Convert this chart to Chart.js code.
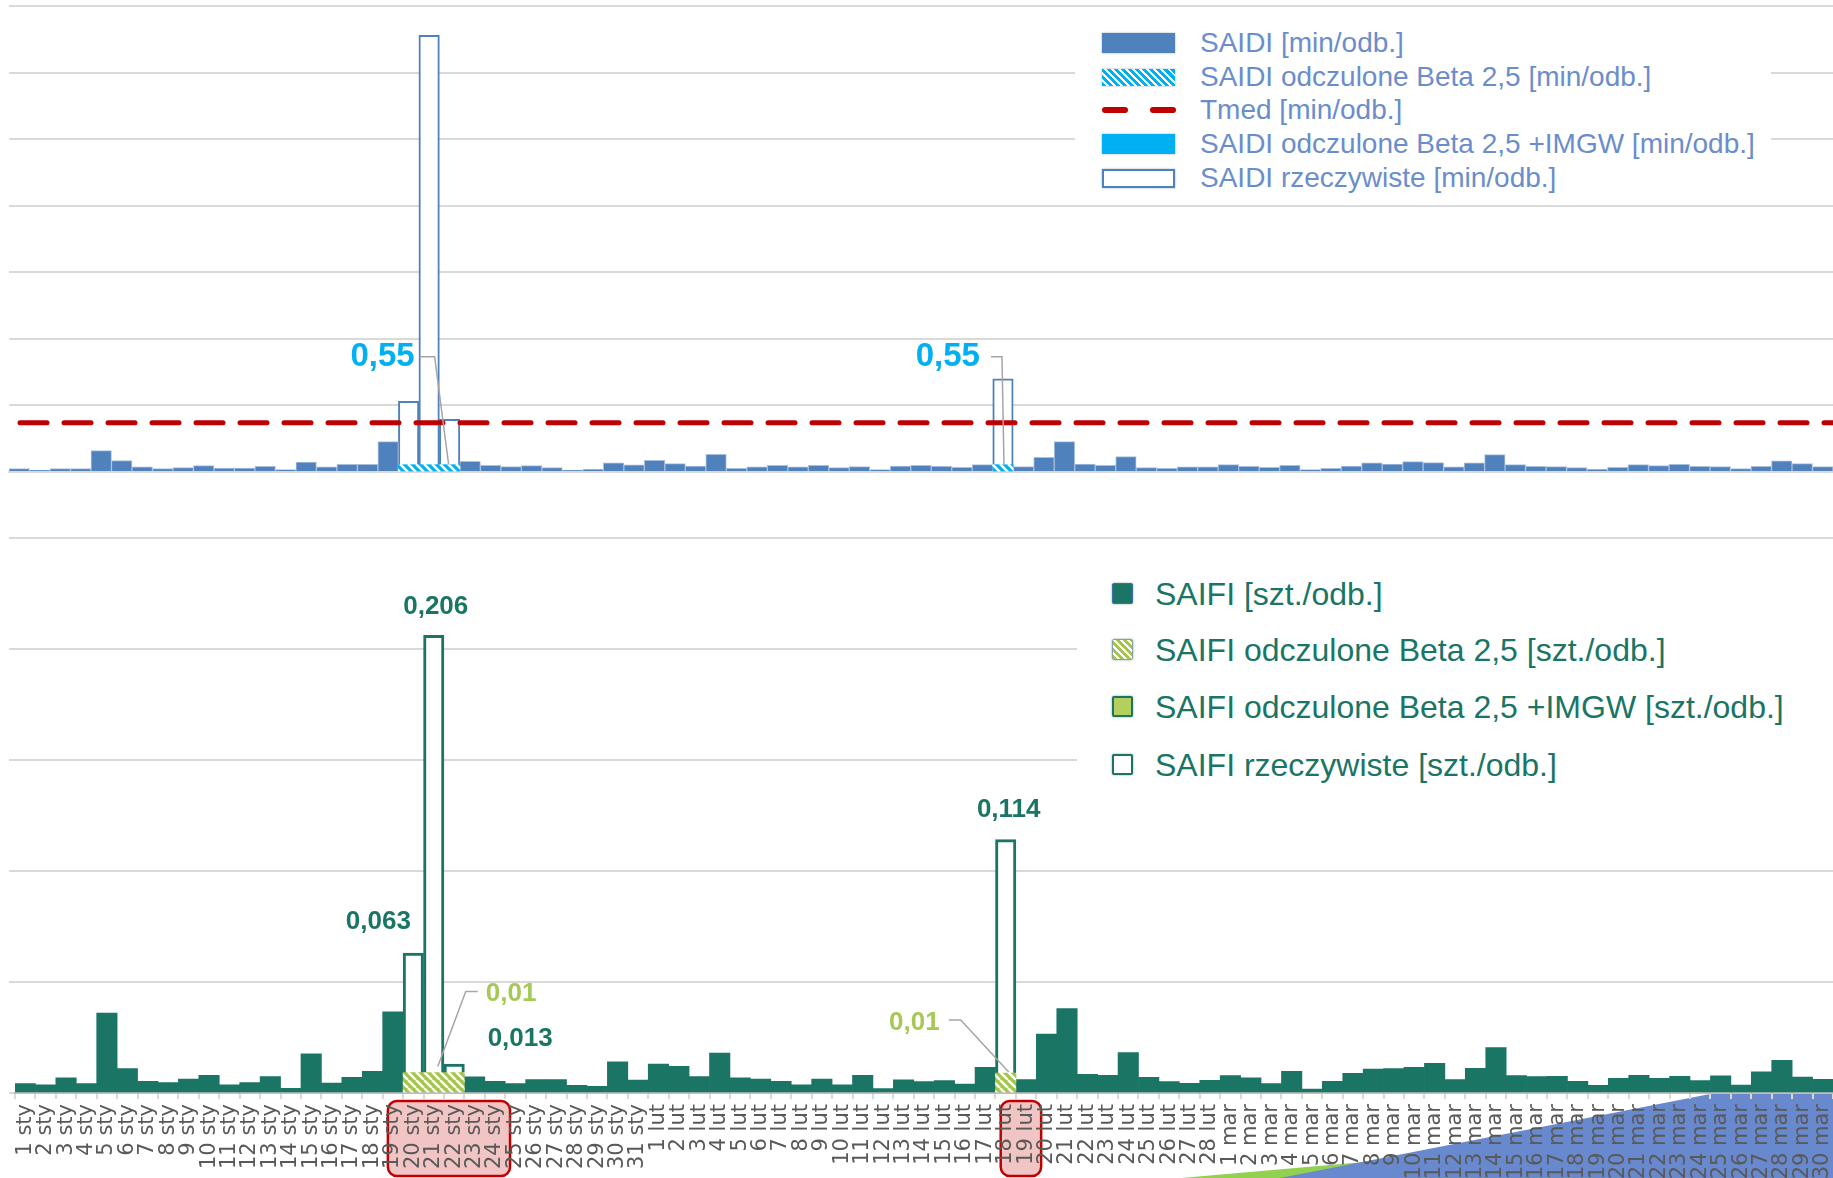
<!DOCTYPE html>
<html>
<head>
<meta charset="utf-8">
<script src="https://cdn.jsdelivr.net/npm/chart.js@4.4.1/dist/chart.umd.min.js"></script>
<style>
html, body { margin: 0; padding: 0; background: #fff; overflow: hidden; }
body { width: 1833px; height: 1178px; position: relative; font-family: "Liberation Sans", Arial, sans-serif; }
canvas { position: absolute; left: 0; }
#saidiChart { top: 0; }
#saifiChart { top: 520px; }
.legend { position: absolute; background: #fff; }
.row { position: absolute; left: 0; right: 0; height: 40px; line-height: 40px; white-space: nowrap; }
.row .sw { position: absolute; top: 50%; box-sizing: border-box; }
.row .tx { position: absolute; top: 0; }
#legTop { left: 1075px; top: 22px; width: 696px; height: 178px; }
#legTop .tx { left: 125px; font-size: 28px; color: #6b8dcb; }
#legTop .sw { left: 27px; width: 73px; box-shadow: 0 0 2px rgba(60,90,150,0.5); }
#legBot { left: 1077px; top: 565px; width: 756px; height: 235px; }
#legBot .tx { left: 78px; font-size: 32px; color: #1a7565; }
#legBot .sw { left: 35px; width: 21px; height: 21px; margin-top: -11px; border-radius: 2px; box-shadow: 0 0 2px rgba(20,80,70,0.6); }
</style>
</head>
<body>
<canvas id="saidiChart" width="1833" height="480"></canvas>
<canvas id="saifiChart" width="1833" height="658"></canvas>

<div id="legTop" class="legend">
  <div class="row" style="top:1px"><span class="sw" style="height:20px;margin-top:-10px;background:#4f81bd"></span><span class="tx">SAIDI [min/odb.]</span></div>
  <div class="row" style="top:35px"><span class="sw" style="height:17px;margin-top:-8px;background:repeating-linear-gradient(45deg,#00b0f0 0 3px,#fff 3px 5px)"></span><span class="tx">SAIDI odczulone Beta 2,5 [min/odb.]</span></div>
  <div class="row" style="top:68px"><span class="sw" style="height:6px;margin-top:-3px;width:26px;border-radius:3px;background:#c00000;box-shadow:none"></span><span class="sw" style="left:75px;height:6px;margin-top:-3px;width:26px;border-radius:3px;background:#c00000;box-shadow:none"></span><span class="tx">Tmed [min/odb.]</span></div>
  <div class="row" style="top:102px"><span class="sw" style="height:20px;margin-top:-10px;background:#00b0f0"></span><span class="tx">SAIDI odczulone Beta 2,5 +IMGW [min/odb.]</span></div>
  <div class="row" style="top:136px"><span class="sw" style="height:19px;margin-top:-9px;background:#fff;border:2px solid #4f81bd"></span><span class="tx">SAIDI rzeczywiste [min/odb.]</span></div>
</div>

<div id="legBot" class="legend">
  <div class="row" style="top:9px"><span class="sw" style="background:#1a7565;border:1px solid #3d6fa8"></span><span class="tx">SAIFI [szt./odb.]</span></div>
  <div class="row" style="top:65px"><span class="sw" style="background:repeating-linear-gradient(45deg,#a4c64b 0 3px,#fff 3px 5px);border:1px solid #8aa0a0"></span><span class="tx">SAIFI odczulone Beta 2,5 [szt./odb.]</span></div>
  <div class="row" style="top:122px"><span class="sw" style="background:#b5cf5c;border:2px solid #1a7565"></span><span class="tx">SAIFI odczulone Beta 2,5 +IMGW [szt./odb.]</span></div>
  <div class="row" style="top:180px"><span class="sw" style="background:#fff;border:2px solid #1a7565"></span><span class="tx">SAIFI rzeczywiste [szt./odb.]</span></div>
</div>

<script>
// dni: styczeń, luty, marzec
const months = [['sty', 31], ['lut', 28], ['mar', 30]];
const days = [];
months.forEach(([m, n]) => { for (let d = 1; d <= n; d++) days.push(d + ' ' + m); });

// SAIDI [min/odb.] - dni bez zdarzeń
const saidiSty = [0.25,0.12,0.25,0.25,1.6,0.85,0.38,0.25,0.33,0.48,0.3,0.3,0.43,0.18,0.75,0.38,0.58,0.58,2.28,null,null,null,0.8,0.5,0.4,0.48,0.33,0.15,0.2,0.68,0.53];
const saidiLut = [0.88,0.63,0.45,1.33,0.28,0.38,0.5,0.38,0.5,0.33,0.4,0.18,0.45,0.5,0.43,0.35,0.55,null,0.4,1.1,2.28,0.6,0.5,1.15,0.33,0.28,0.38,0.38];
const saidiMar = [0.55,0.43,0.35,0.5,0.18,0.28,0.45,0.68,0.6,0.78,0.7,0.38,0.68,1.3,0.55,0.43,0.4,0.33,0.2,0.35,0.55,0.48,0.58,0.43,0.4,0.25,0.43,0.83,0.63,0.4];

// SAIFI [szt./odb.]
const saifiSty = [0.0042,0.0037,0.0068,0.0042,0.036,0.011,0.0053,0.0047,0.0063,0.0079,0.0037,0.0047,0.0074,0.0021,0.0176,0.0045,0.007,0.0098,0.0365,null,null,null,0.0073,0.0053,0.0042,0.006,0.006,0.0035,0.003,0.014,0.0058];
const saifiLut = [0.013,0.012,0.0074,0.018,0.0068,0.0063,0.0053,0.0037,0.0063,0.0037,0.0079,0.002,0.0059,0.0051,0.0056,0.004,0.0116,null,0.006,0.0265,0.038,0.0084,0.008,0.0182,0.007,0.0051,0.0044,0.0057];
const saifiMar = [0.0078,0.0068,0.0042,0.0098,0.0018,0.0053,0.0089,0.0108,0.011,0.0116,0.0134,0.006,0.0111,0.0204,0.0078,0.0074,0.0075,0.0053,0.0035,0.0066,0.008,0.0066,0.0075,0.0056,0.0077,0.0036,0.0095,0.0147,0.0072,0.0062];

// dni zdarzeń (odczulone / rzeczywiste)
const eventDays = ['20 sty', '21 sty', '22 sty', '18 lut'];
const saidiBeta = [0.55, 0.55, 0.55, 0.55];
const saidiReal = [5.3, 32.8, 3.95, 7.0];
const saifiBeta = [0.0092, 0.0092, 0.0092, 0.009];
const saifiReal = [0.063, 0.206, 0.013, 0.114];
const TMED = 3.7;

// zaznaczone okresy na osi X
const marked = [['19 sty', '24 sty'], ['18 lut', '19 lut']];

const saidi = saidiSty.concat(saidiLut, saidiMar);
const saifi = saifiSty.concat(saifiLut, saifiMar);
const ev = vals => eventDays.map((d, i) => ({ x: d, y: vals[i] }));

function hatch(ctx, bg, fg, w) {
  const c = document.createElement('canvas');
  c.width = 8; c.height = 8;
  const g = c.getContext('2d');
  g.fillStyle = bg; g.fillRect(0, 0, 8, 8);
  g.strokeStyle = fg; g.lineWidth = w;
  g.beginPath();
  for (let k = -8; k <= 8; k += 8) { g.moveTo(k, 0); g.lineTo(k + 8, 8); }
  g.stroke();
  return ctx.createPattern(c, 'repeat');
}

// etykiety danych z liniami odniesienia
function callouts(items) {
  return {
    id: 'callouts',
    afterDatasetsDraw(chart) {
      const ctx = chart.ctx;
      items.forEach(it => {
        const el = chart.getDatasetMeta(it.ds).data[it.i];
        const v = chart.data.datasets[it.ds].data[it.i].y;
        ctx.save();
        if (it.line) {
          ctx.strokeStyle = '#a6a6a6'; ctx.lineWidth = 1.5;
          ctx.beginPath();
          it.line.forEach(([lx, ly], k) => k ? ctx.lineTo(el.x + lx, el.y + ly) : ctx.moveTo(el.x + lx, el.y + ly));
          ctx.stroke();
        }
        ctx.font = it.font; ctx.fillStyle = it.color;
        ctx.textAlign = it.align; ctx.textBaseline = 'middle';
        ctx.fillText(v.toFixed(it.digits).replace('.', ','), el.x + it.dx, el.y + it.dy);
        ctx.restore();
      });
    }
  };
}

// linia Tmed na całej szerokości obszaru wykresu
const tmedLine = {
  id: 'tmedLine',
  afterDatasetsDraw(chart) {
    const { ctx, chartArea: a, scales: { y } } = chart;
    const py = y.getPixelForValue(TMED);
    ctx.save();
    ctx.strokeStyle = '#c00000'; ctx.lineWidth = 5; ctx.lineCap = 'round';
    ctx.setLineDash([27, 17]);
    ctx.beginPath(); ctx.moveTo(a.left + 11, py); ctx.lineTo(a.right + 5, py); ctx.stroke();
    ctx.restore();
  }
};

const noPad = s => { s.paddingLeft = 0; s.paddingRight = 0; s.paddingTop = 0; s.paddingBottom = 0; };

// ---------- SAIDI ----------
const ctxTop = document.getElementById('saidiChart').getContext('2d');
new Chart(ctxTop, {
  type: 'bar',
  data: {
    labels: days,
    datasets: [
      { label: 'SAIDI [min/odb.]', data: saidi, backgroundColor: '#4f81bd', borderColor: '#a8bfe0', borderWidth: 1, order: 3 },
      { label: 'SAIDI odczulone Beta 2,5 [min/odb.]', data: ev(saidiBeta), backgroundColor: hatch(ctxTop, '#00b0f0', '#ffffff', 2.6), borderWidth: 0, order: 2 },
      { label: 'SAIDI odczulone Beta 2,5 +IMGW [min/odb.]', data: [], backgroundColor: '#00b0f0', order: 2 },
      { label: 'SAIDI rzeczywiste [min/odb.]', data: ev(saidiReal), backgroundColor: '#ffffff', borderColor: '#4f81bd', borderWidth: 2, order: 4 }
    ]
  },
  options: {
    responsive: false,
    animation: false,
    layout: { padding: { top: 6, left: 0, right: 0, bottom: 0 } },
    datasets: { bar: { barPercentage: 1, categoryPercentage: 1, grouped: false } },
    plugins: { legend: { display: false }, tooltip: { enabled: false } },
    scales: {
      x: {
        ticks: { display: false },
        grid: { drawOnChartArea: false, drawTicks: false },
        border: { display: true, color: '#d9d9d9', width: 2 },
        afterFit: s => { s.height = 8; noPad(s); }
      },
      y: {
        min: 0, max: 35,
        ticks: { display: false, stepSize: 5 },
        grid: { color: '#d9d9d9', lineWidth: 2, drawTicks: false },
        border: { display: false },
        afterFit: s => { s.width = 9; noPad(s); }
      }
    }
  },
  plugins: [tmedLine, callouts([
    { ds: 1, i: 2, digits: 2, dx: -35, dy: -108, align: 'right', font: 'bold 33px "Liberation Sans", Arial', color: '#00b0f0', line: [[-30, -108], [-15, -108], [-1, 0]] },
    { ds: 1, i: 3, digits: 2, dx: -23, dy: -108, align: 'right', font: 'bold 33px "Liberation Sans", Arial', color: '#00b0f0', line: [[-12, -108], [-1, -108], [1, 0]] }
  ])]
});

// ---------- SAIFI ----------
const decor = {
  id: 'decor',
  beforeDraw(chart) {
    const { ctx, chartArea: a, scales: { x } } = chart;
    ctx.save();
    // tło slajdu (trójkąty w prawym dolnym rogu)
    ctx.fillStyle = '#92d050';
    ctx.beginPath(); ctx.moveTo(1181, 658); ctx.lineTo(1833, 601); ctx.lineTo(1833, 658); ctx.closePath(); ctx.fill();
    ctx.fillStyle = '#6889cd';
    ctx.beginPath(); ctx.moveTo(1280, 658); ctx.lineTo(1833, 550); ctx.lineTo(1833, 658); ctx.closePath(); ctx.fill();
    ctx.fillStyle = '#ffffff';
    ctx.fillRect(a.left, a.top, a.right - a.left, a.bottom - a.top);
    // zaznaczone okresy
    marked.forEach(([d1, d2]) => {
      const x1 = x.getPixelForValue(days.indexOf(d1)) - 5;
      const x2 = x.getPixelForValue(days.indexOf(d2)) + 15;
      ctx.beginPath();
      ctx.roundRect(x1, 581, x2 - x1, 75, 9);
      ctx.fillStyle = 'rgba(230,140,140,0.5)';
      ctx.fill();
      ctx.lineWidth = 2.5; ctx.strokeStyle = '#c00000';
      ctx.stroke();
    });
    ctx.restore();
  }
};

const ctxBot = document.getElementById('saifiChart').getContext('2d');
new Chart(ctxBot, {
  type: 'bar',
  data: {
    labels: days,
    datasets: [
      { label: 'SAIFI [szt./odb.]', data: saifi, backgroundColor: '#1a7565', borderWidth: 0, order: 3 },
      { label: 'SAIFI odczulone Beta 2,5 [szt./odb.]', data: ev(saifiBeta), backgroundColor: hatch(ctxBot, '#a4c64b', '#ffffff', 2.4), borderWidth: 0, order: 2 },
      { label: 'SAIFI odczulone Beta 2,5 +IMGW [szt./odb.]', data: [], backgroundColor: '#b5cf5c', order: 2 },
      { label: 'SAIFI rzeczywiste [szt./odb.]', data: ev(saifiReal), backgroundColor: '#ffffff', borderColor: '#1a7565', borderWidth: 3, order: 4 }
    ]
  },
  options: {
    responsive: false,
    animation: false,
    layout: { padding: { top: 17.5, left: 0, right: 0, bottom: 0 } },
    datasets: { bar: { barPercentage: 1, categoryPercentage: 1, grouped: false } },
    plugins: { legend: { display: false }, tooltip: { enabled: false } },
    scales: {
      x: {
        ticks: { autoSkip: false, minRotation: 90, maxRotation: 90, padding: 5, color: '#595959', font: { family: 'DejaVu Sans', size: 21 } },
        grid: { drawOnChartArea: false, drawTicks: true, tickLength: 6, color: '#d9d9d9', lineWidth: 2 },
        border: { display: true, color: '#bfbfbf', width: 2 },
        afterFit: s => { s.height = 85; noPad(s); }
      },
      y: {
        min: 0, max: 0.25,
        ticks: { display: false, stepSize: 0.05 },
        grid: { color: '#d9d9d9', lineWidth: 2, drawTicks: true, tickLength: 6 },
        border: { display: false },
        afterFit: s => { s.width = 15; noPad(s); }
      }
    }
  },
  plugins: [decor, callouts([
    { ds: 3, i: 1, digits: 3, dx: 2, dy: -28, align: 'center', font: 'bold 26px "Liberation Sans", Arial', color: '#1a7565' },
    { ds: 3, i: 0, digits: 3, dx: -35, dy: -31, align: 'center', font: 'bold 26px "Liberation Sans", Arial', color: '#1a7565' },
    { ds: 3, i: 2, digits: 3, dx: 66, dy: -25, align: 'center', font: 'bold 26px "Liberation Sans", Arial', color: '#1a7565' },
    { ds: 3, i: 3, digits: 3, dx: 3, dy: -30, align: 'center', font: 'bold 26px "Liberation Sans", Arial', color: '#1a7565' },
    { ds: 1, i: 1, digits: 2, dx: 52, dy: -79, align: 'left', font: 'bold 26px "Liberation Sans", Arial', color: '#a6c955', line: [[4, -6], [32, -81], [44, -81]] },
    { ds: 1, i: 3, digits: 2, dx: -66, dy: -50, align: 'right', font: 'bold 26px "Liberation Sans", Arial', color: '#a6c955', line: [[-57, -53], [-45, -53], [3, -1]] }
  ])]
});
</script>
</body>
</html>
